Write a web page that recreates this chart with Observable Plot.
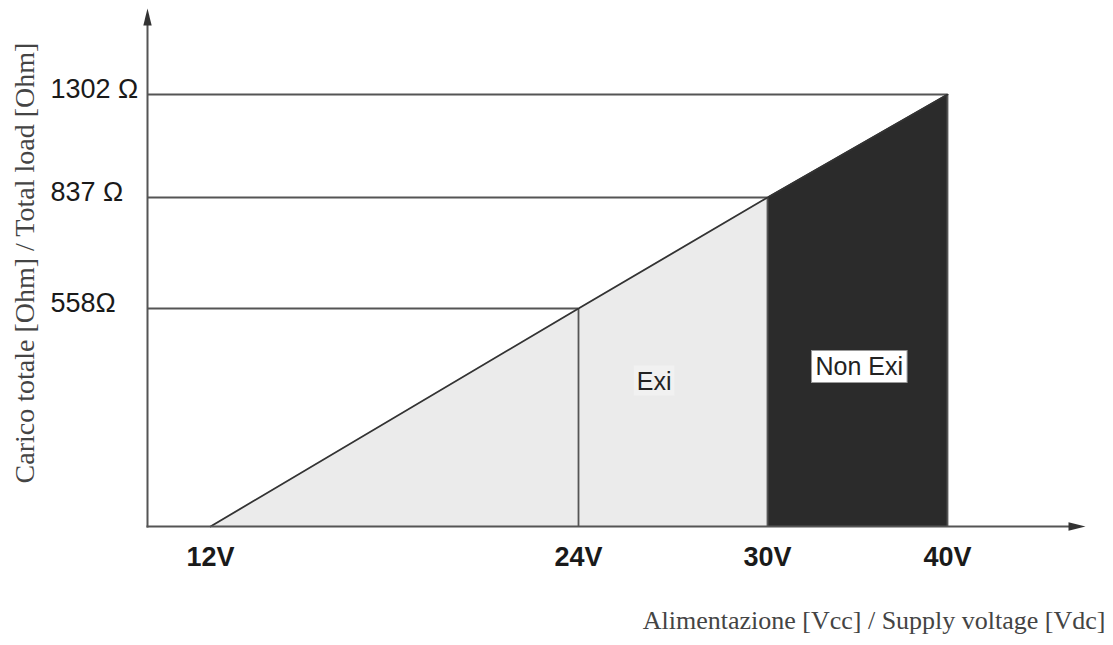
<!DOCTYPE html>
<html>
<head>
<meta charset="utf-8">
<script src="https://cdn.jsdelivr.net/npm/d3@7"></script>
<script src="https://cdn.jsdelivr.net/npm/@observablehq/plot@0.6"></script>
<style>
  body { margin: 0; background: #fff; }
  #chart svg { display: block; }
</style>
</head>
<body>
<div id="chart"></div>
<script>
// ---- data ----
const volts = [12, 24, 30, 40];          // supply voltage [V]
const ohms = [0, 558, 837, 1302];        // total load [Ohm]
const xTicks = [12, 24, 30, 40];
const xTickLabels = ["12V", "24V", "30V", "40V"];
const yTicks = [558, 837, 1302];
const yTickLabels = ["558Ω", "837 Ω", "1302 Ω"];
const zoneNames = ["Exi", "Non Exi"];
const zoneVolts = [26.4, 35.1];
const zoneOhms = [371, 407];
const xTitle = "Alimentazione [Vcc] / Supply voltage [Vdc]";
const yTitle = "Carico totale [Ohm] / Total load [Ohm]";
const axisOriginVolts = 10;              // where the drawn voltage axis starts

const points = volts.map((v, i) => ({v, r: ohms[i]}));
const zones = zoneNames.map((name, i) => ({name, v: zoneVolts[i], r: zoneOhms[i]}));

const arrowUp = {
  draw(ctx) {
    ctx.moveTo(0, -17);
    ctx.lineTo(4.2, 0);
    ctx.lineTo(-4.2, 0);
    ctx.closePath();
  }
};

const W = 1113, H = 645;
const lineColor = "#555";

const chart = Plot.plot({
  width: W,
  height: H,
  marginLeft: 147,
  marginRight: 45,
  marginTop: 25,
  marginBottom: 119,
  style: {fontFamily: "'Liberation Sans', Arial, sans-serif", background: "#fff"},
  // non-uniform (piecewise) scales as in the original drawing
  x: {type: "linear", domain: [axisOriginVolts, 12, 24, 30, 40], range: [147, 210, 578, 767, 947]},
  y: {type: "linear", domain: [0, 558, 837, 1302], range: [526, 308, 197, 94]},
  marks: [
    Plot.areaY(points.slice(0, 3), {x: "v", y: "r", fill: "#ebebeb"}),
    Plot.areaY(points.slice(2), {x: "v", y: "r", fill: "#2b2b2b"}),
    Plot.ruleY(points.slice(1), {y: "r", x1: axisOriginVolts, x2: "v", stroke: lineColor, strokeWidth: 1.8}),
    Plot.ruleX(points.slice(1), {x: "v", y1: 0, y2: "r", stroke: lineColor, strokeWidth: 1.8}),
    Plot.line(points, {x: "v", y: "r", stroke: "#333", strokeWidth: 1.8}),
    Plot.frame({anchor: "left", stroke: lineColor, strokeWidth: 2}),
    Plot.frame({anchor: "bottom", stroke: lineColor, strokeWidth: 2}),
    Plot.dot([0], {frameAnchor: "top-left", symbol: arrowUp, r: 5, fill: "#333", stroke: "none"}),
    Plot.dot([0], {frameAnchor: "bottom-right", symbol: arrowUp, r: 5, rotate: 90, fill: "#333", stroke: "none"}),
    Plot.axisX(xTicks, {
      tickSize: 0, tickPadding: 20, label: null,
      tickFormat: d => xTickLabels[xTicks.indexOf(d)],
      fontSize: 27, fontWeight: "bold", fill: "#1a1a1a"
    }),
    Plot.axisY(yTicks, {
      tickSize: 0, tickPadding: 97, label: null, textAnchor: "start", dy: -5,
      tickFormat: d => yTickLabels[yTicks.indexOf(d)],
      fontSize: 27, fill: "#1a1a1a"
    }),
    Plot.text(zones, {
      x: "v", y: "r", text: "name", fontSize: 25, fill: "#222"
    }),
    Plot.text([yTitle], {
      frameAnchor: "left", dx: -122, dy: -13, rotate: -90,
      fontFamily: "'Liberation Serif', 'Times New Roman', serif",
      fontSize: 28, fill: "#444", textAnchor: "middle"
    }),
    Plot.text([xTitle], {
      frameAnchor: "bottom-right", dx: 37, dy: 102, textAnchor: "end",
      fontFamily: "'Liberation Serif', 'Times New Roman', serif",
      fontSize: 26, fill: "#444"
    })
  ]
});

document.getElementById("chart").appendChild(chart);

// white boxes behind the zone labels
d3.select(chart).selectAll("text").filter(function() {
  return zoneNames.includes(this.textContent) && this.parentNode.tagName.toLowerCase() === "g";
}).each(function() {
  const b = this.getBBox();
  const isNon = this.textContent === "Non Exi";
  const padX = isNon ? 4 : 3, padY = isNon ? 2 : 1;
  d3.select(this.parentNode).insert("rect", () => this)
    .attr("transform", this.getAttribute("transform"))
    .attr("x", b.x - padX).attr("y", b.y - padY)
    .attr("width", b.width + 2 * padX).attr("height", b.height + 2 * padY)
    .attr("fill", isNon ? "#fff" : "#f1f1f1")
    .attr("stroke", isNon ? "#999" : "none")
    .attr("stroke-width", 1);
});
</script>
</body>
</html>
